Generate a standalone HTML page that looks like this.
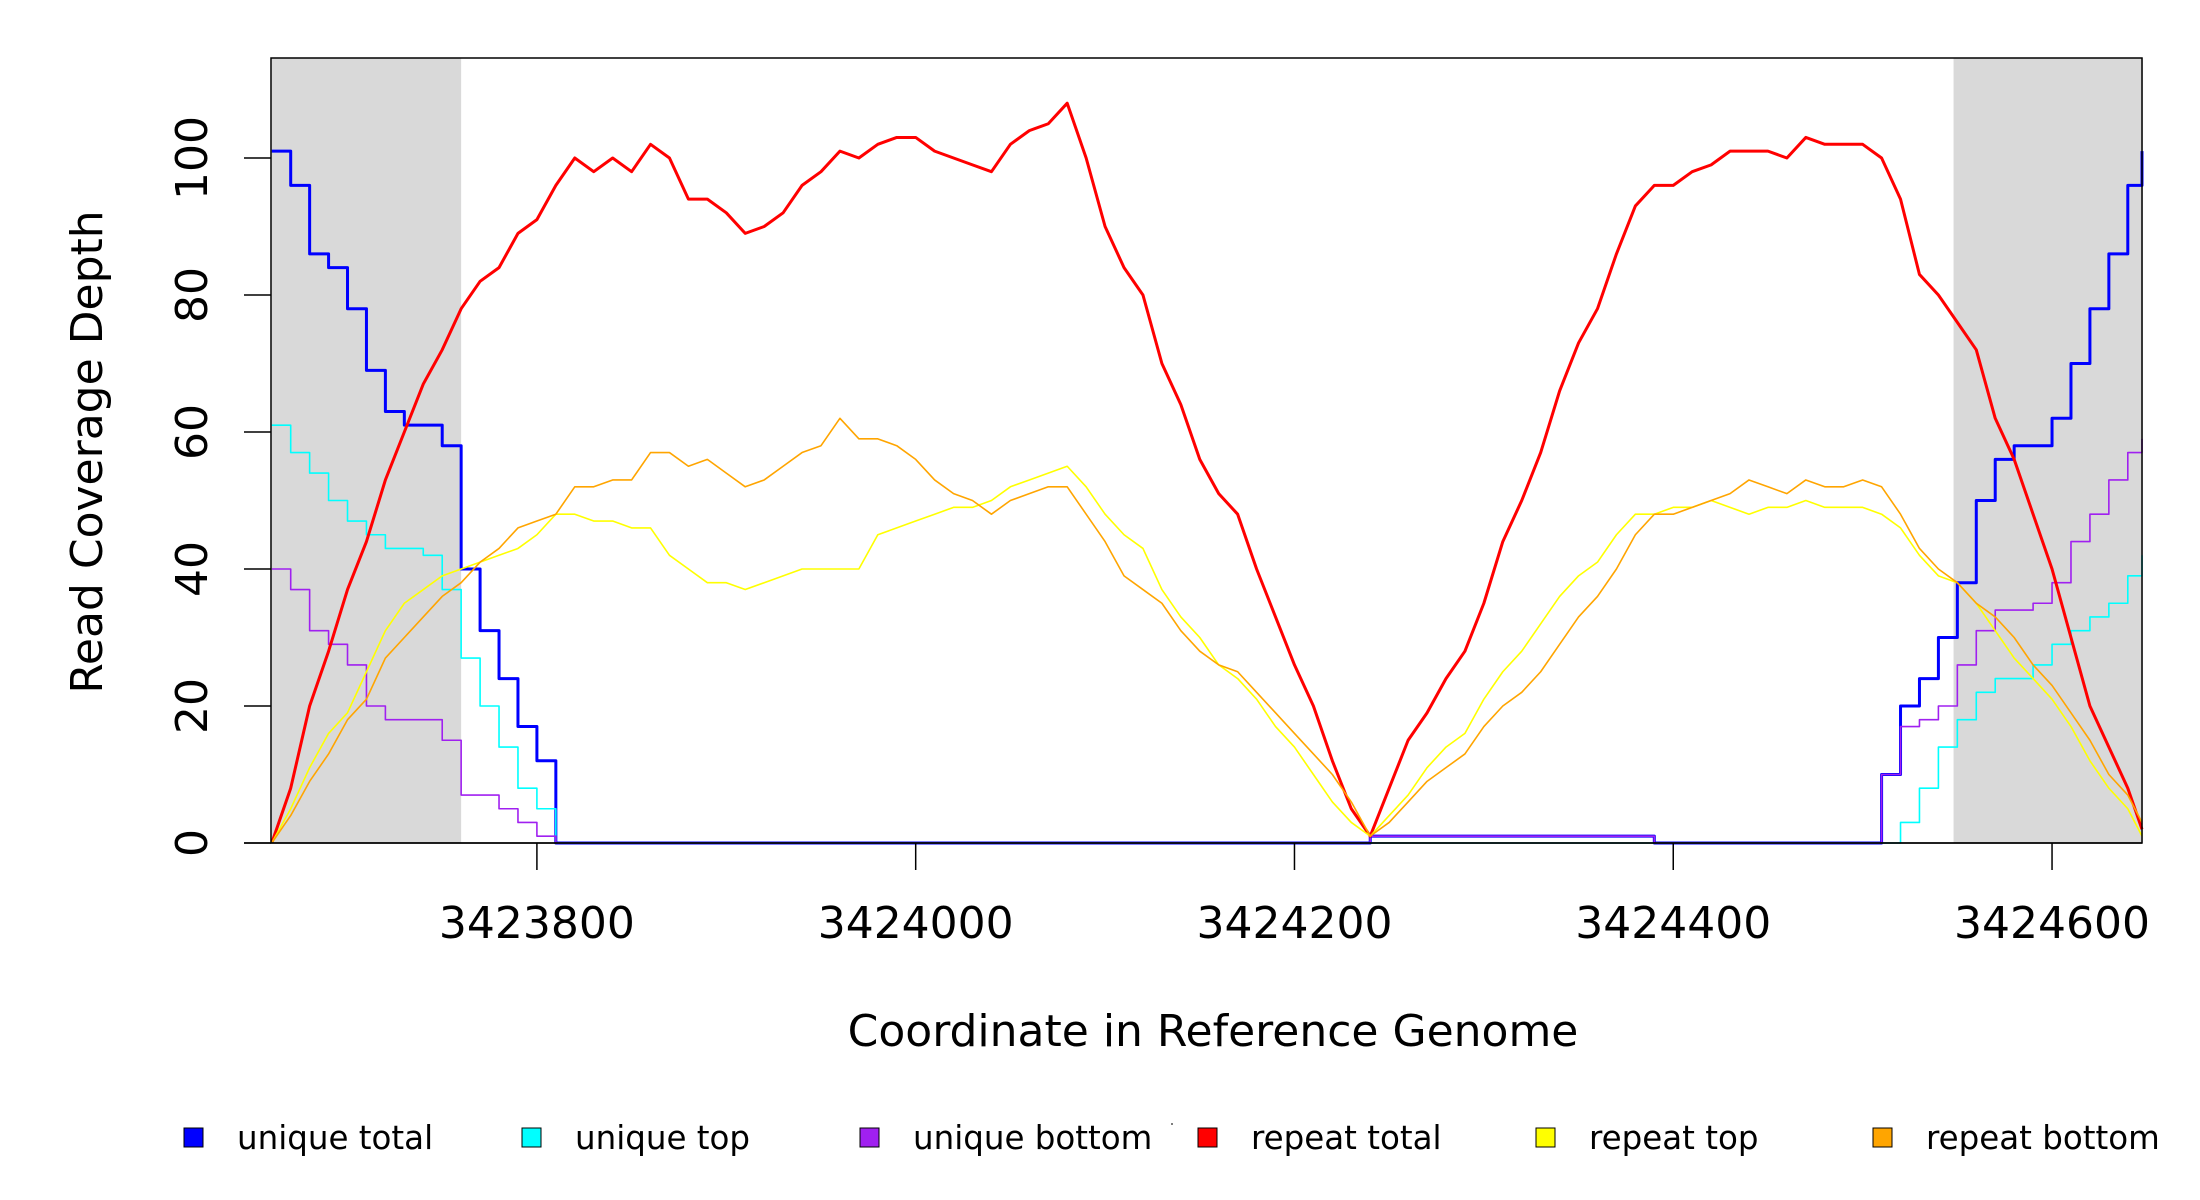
<!DOCTYPE html>
<html><head><meta charset="utf-8"><style>
html,body{margin:0;padding:0;background:#fff}
svg{display:block;font-family:"DejaVu Sans","Liberation Sans",sans-serif}
</style></head><body>
<svg id="chart" width="2200" height="1200" viewBox="0 0 2200 1200" xmlns="http://www.w3.org/2000/svg">
<rect x="0" y="0" width="2200" height="1200" fill="#fff"/>
<g id="shade"></g>
<g id="series"></g>
<rect x="271" y="58" width="1871" height="785" fill="none" stroke="#000" stroke-width="1.5"/>
<g id="axes"></g>
<text x="1213" y="1046" font-size="44" text-anchor="middle">Coordinate in Reference Genome</text>
<text transform="translate(102,452) rotate(-90)" font-size="44" text-anchor="middle">Read Coverage Depth</text>
<g id="legend"></g>
<circle cx="1172" cy="1124" r="1" fill="#555"/>
</svg>
<script>
const xStart = 3423660;
const xStep = 10;
const repeatTotal = [0,8,20,28,37,44,53,60,67,72,78,82,84,89,91,96,100,98,100,98,102,100,94,94,92,89,90,92,96,98,101,100,102,103,103,101,100,99,98,102,104,105,108,100,90,84,80,70,64,56,51,48,40,33,26,20,12,5,1,8,15,19,24,28,35,44,50,57,66,73,78,86,93,96,96,98,99,101,101,101,100,103,102,102,102,100,94,83,80,76,72,62,56,48,40,30,20,14,8,2];
const repeatTop = [0,5,11,16,19,25,31,35,37,39,40,41,42,43,45,48,48,47,47,46,46,42,40,38,38,37,38,39,40,40,40,40,45,46,47,48,49,49,50,52,53,54,55,52,48,45,43,37,33,30,26,24,21,17,14,10,6,3,1,4,7,11,14,16,21,25,28,32,36,39,41,45,48,48,49,49,50,49,48,49,49,50,49,49,49,48,46,42,39,38,35,31,27,24,21,17,12,8,5,1];
const repeatBottom = [0,4,9,13,18,21,27,30,33,36,38,41,43,46,47,48,52,52,53,53,57,57,55,56,54,52,53,55,57,58,62,59,59,58,56,53,51,50,48,50,51,52,52,48,44,39,37,35,31,28,26,25,22,19,16,13,10,6,1,3,6,9,11,13,17,20,22,25,29,33,36,40,45,48,48,49,50,51,53,52,51,53,52,52,53,52,48,43,40,38,35,33,30,26,23,19,15,10,7,3];
const uniqueTotal = [101,96,86,84,78,69,63,61,61,58,40,31,24,17,12,0,0,0,0,0,0,0,0,0,0,0,0,0,0,0,0,0,0,0,0,0,0,0,0,0,0,0,0,0,0,0,0,0,0,0,0,0,0,0,0,0,0,0,1,1,1,1,1,1,1,1,1,1,1,1,1,1,1,0,0,0,0,0,0,0,0,0,0,0,0,10,20,24,30,38,50,56,58,58,62,70,78,86,96,101];
const uniqueTop = [61,57,54,50,47,45,43,43,42,37,27,20,14,8,5,0,0,0,0,0,0,0,0,0,0,0,0,0,0,0,0,0,0,0,0,0,0,0,0,0,0,0,0,0,0,0,0,0,0,0,0,0,0,0,0,0,0,0,0,0,0,0,0,0,0,0,0,0,0,0,0,0,0,0,0,0,0,0,0,0,0,0,0,0,0,0,3,8,14,18,22,24,24,26,29,31,33,35,39,42];
const uniqueBottom = [40,37,31,29,26,20,18,18,18,15,7,7,5,3,1,0,0,0,0,0,0,0,0,0,0,0,0,0,0,0,0,0,0,0,0,0,0,0,0,0,0,0,0,0,0,0,0,0,0,0,0,0,0,0,0,0,0,0,1,1,1,1,1,1,1,1,1,1,1,1,1,1,1,0,0,0,0,0,0,0,0,0,0,0,0,10,17,18,20,26,31,34,34,35,38,44,48,53,57,59];
const xTicks = [3423800,3424000,3424200,3424400,3424600];
const yTicks = [0,20,40,60,80,100];
const shadeRegions = [[3423660,3423760],[3424548,3424648]];
const seriesNames = ["unique total","unique top","unique bottom","repeat total","repeat top","repeat bottom"];

const NS = "http://www.w3.org/2000/svg";
const X0 = 3423659.6, X1 = 3424647.5, PX0 = 271, PX1 = 2142;
const PY0 = 843, PYPER = 6.85;
function sx(v){ return PX0 + (v - X0) / (X1 - X0) * (PX1 - PX0); }
function sy(v){ return PY0 - v * PYPER; }
function mk(tag, attrs, parent){ const e = document.createElementNS(NS, tag); for (const k in attrs) e.setAttribute(k, attrs[k]); parent.appendChild(e); return e; }

const shade = document.getElementById('shade');
shadeRegions.forEach(r => {
  const e = mk('rect', {x: sx(r[0]), y: 58, width: sx(r[1]) - sx(r[0]), height: 785, fill: '#d9d9d9'}, shade);
  
  
});

const seriesLayer = document.getElementById('series');
function xAt(i){ return Math.min(Math.max(sx(xStart + i * xStep), PX0), PX1); }
function drawSeries(vals, color, w, step, name){
  let d = '';
  vals.forEach((v, i) => {
    const x = xAt(i), y = sy(v);
    if (i === 0) d += 'M' + x + ' ' + y;
    else if (step) d += ' L' + x + ' ' + sy(vals[i-1]) + ' L' + x + ' ' + y;
    else d += ' L' + x + ' ' + y;
  });
  if (step) d += ' L' + PX1 + ' ' + sy(vals[vals.length-1]);
  const p = mk('path', {d: d, fill: 'none', stroke: color, 'stroke-width': w, 'stroke-linejoin': 'round'}, seriesLayer);
  
  
}
drawSeries(uniqueTotal, '#0000ff', 3, true, 'unique-total-line');
drawSeries(uniqueTop, '#00ffff', 1.6, true, 'unique-top-line');
drawSeries(uniqueBottom, '#a020f0', 1.6, true, 'unique-bottom-line');
drawSeries(repeatTotal, '#ff0000', 3, false, 'repeat-total-line');
drawSeries(repeatTop, '#ffff00', 1.6, false, 'repeat-top-line');
drawSeries(repeatBottom, '#ffa500', 1.6, false, 'repeat-bottom-line');

const axes = document.getElementById('axes');
const ba = mk('line', {x1: 244, y1: PY0, x2: PX1, y2: PY0, stroke: '#000', 'stroke-width': 1.5}, axes);


xTicks.forEach(t => {
  const x = sx(t);
  const l = mk('line', {x1: x, y1: PY0, x2: x, y2: 870, stroke: '#000', 'stroke-width': 1.5}, axes);
  
  
  const tx = mk('text', {x: x, y: 938, 'font-size': 44, 'text-anchor': 'middle'}, axes);
  
  
  tx.textContent = t;
});
yTicks.forEach(t => {
  const y = sy(t);
  const l = mk('line', {x1: 244, y1: y, x2: PX0, y2: y, stroke: '#000', 'stroke-width': 1.5}, axes);
  
  
  const tx = mk('text', {transform: 'translate(207,' + y + ') rotate(-90)', 'font-size': 44, 'text-anchor': 'middle'}, axes);
  
  
  tx.textContent = t;
});

const legend = document.getElementById('legend');
const legendColors = ['#0000ff','#00ffff','#a020f0','#ff0000','#ffff00','#ffa500'];
const legendX = [184, 522, 860, 1198, 1536, 1873];
seriesNames.forEach((n, i) => {
  const g = mk('g', {}, legend);
  
  
  const r = mk('rect', {x: legendX[i], y: 1128, width: 19, height: 19, fill: legendColors[i], stroke: '#000', 'stroke-width': 1}, g);
  
  
  const t = mk('text', {x: legendX[i] + 53, y: 1149, 'font-size': 32.5}, g);
  
  
  t.textContent = n;
});
</script>
</body></html>
